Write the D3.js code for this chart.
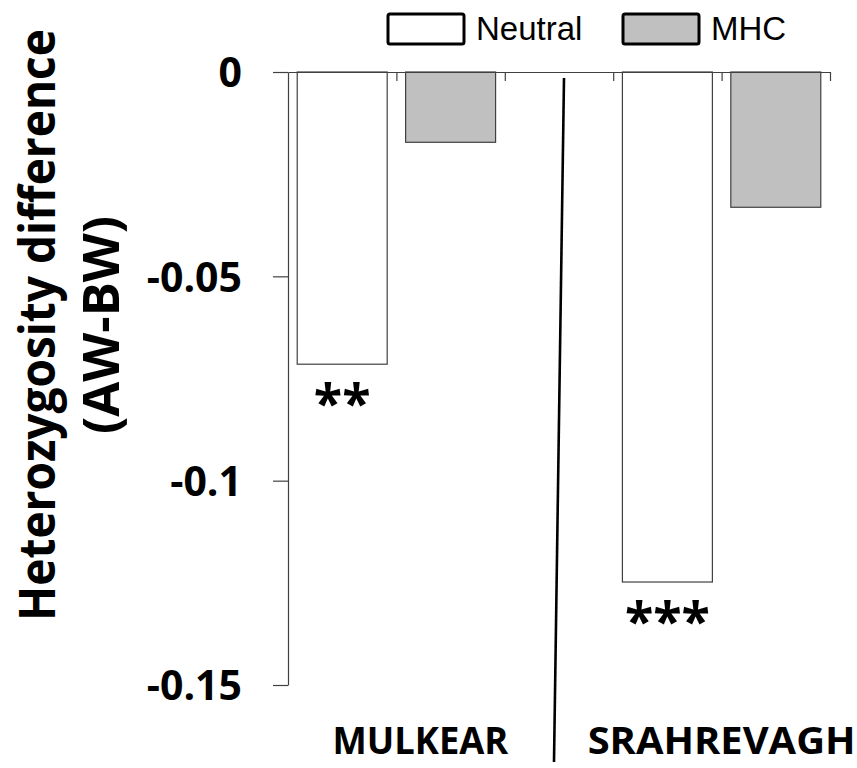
<!DOCTYPE html>
<html>
<head>
<meta charset="utf-8">
<script src="https://cdn.jsdelivr.net/npm/d3@7"></script>
<style>
  html, body { margin: 0; padding: 0; background: #fff; }
  svg { display: block; }
</style>
</head>
<body>
<svg id="chart" width="857" height="768"></svg>
<script>
// ---- data ----
const sites = ["MULKEAR", "SRAHREVAGH"];
const markers = ["Neutral", "MHC"];
const neutralValues = [-0.0715, -0.1248];
const mhcValues = [-0.0172, -0.0331];
const significance = ["**", "***"];
const yTicks = [0, -0.05, -0.1, -0.15];
const yTickLabels = ["0", "-0.05", "-0.1", "-0.15"];
const yTitle = ["Heterozygosity difference", "(AW-BW)"];

// ---- layout ----
const svg = d3.select("#chart");
const boldFont = "'Open Sans', 'DejaVu Sans', sans-serif";
const fills = { Neutral: "#ffffff", MHC: "#c0c0c0" };

// slots: each site has Neutral & MHC, with an empty slot between sites
const slots = [];
sites.forEach((s, i) => {
  if (i > 0) slots.push("gap");
  markers.forEach(m => slots.push(s + "|" + m));
});

const x = d3.scaleBand().domain(slots).range([288, 830]).paddingInner(0.17).paddingOuter(0.085);
const y = d3.scaleLinear().domain([-0.15, 0]).range([685, 72]);

const rows = [];
sites.forEach((s, i) => {
  rows.push({ site: s, marker: "Neutral", value: neutralValues[i], sig: significance[i] });
  rows.push({ site: s, marker: "MHC", value: mhcValues[i], sig: "" });
});

// ---- bars ----
svg.append("g").selectAll("rect").data(rows).join("rect")
  .attr("x", d => x(d.site + "|" + d.marker))
  .attr("y", y(0))
  .attr("width", x.bandwidth())
  .attr("height", d => y(d.value) - y(0))
  .attr("fill", d => fills[d.marker])
  .attr("stroke", "#404040")
  .attr("stroke-width", 1.2);

// ---- significance stars ----
svg.append("g").selectAll("text").data(rows.filter(d => d.sig)).join("text")
  .attr("x", d => x(d.site + "|" + d.marker) + x.bandwidth() / 2)
  .attr("y", d => y(d.value) + 58)
  .attr("text-anchor", "middle")
  .attr("font-family", boldFont)
  .attr("font-weight", 700)
  .attr("font-size", 52)
  .attr("fill", "#000")
  .text(d => d.sig);

// ---- y axis ----
const yAxis = d3.axisLeft(y)
  .tickValues(yTicks)
  .tickFormat((d, i) => yTickLabels[i])
  .tickSize(15)
  .tickSizeOuter(0)
  .tickPadding(31);
const gy = svg.append("g").attr("transform", "translate(288,0)").call(yAxis);
gy.select(".domain").attr("stroke", "#404040").attr("stroke-width", 1.2);
gy.selectAll(".tick line").attr("stroke", "#404040").attr("stroke-width", 1.2);
gy.selectAll(".tick text")
  .attr("font-family", boldFont)
  .attr("font-weight", 700)
  .attr("font-size", 41)
  .attr("fill", "#000")
  .attr("dy", "0.36em");

// ---- top (category) axis at zero ----
const step = x.step();
const bounds = d3.range(slots.length + 1).map(i => 288 + i * step);
const xl = d3.scaleLinear().domain([288, 830]).range([288, 830]);
const gx = svg.append("g").attr("transform", `translate(0,${y(0)})`)
  .call(d3.axisBottom(xl).tickValues(bounds.slice(1)).tickSize(9).tickSizeOuter(0).tickFormat(""));
gx.select(".domain").attr("stroke", "#404040").attr("stroke-width", 1.2);
gx.selectAll(".tick line").attr("stroke", "#404040").attr("stroke-width", 1.2);

// ---- divider between sites ----
const gapC = x("gap") + x.bandwidth() / 2;
svg.append("line")
  .attr("x1", gapC + 5).attr("y1", 78)
  .attr("x2", gapC - 5).attr("y2", 762)
  .attr("stroke", "#000").attr("stroke-width", 2.6);

// helper: horizontal scale factor (in the text's own frame) to reach a target length
function fitText(sel, target) {
  const natural = sel.node().getComputedTextLength();
  return target / natural;
}

// ---- site labels ----
const siteOffsets = [24, 0];
const siteWidths = [176, 268];
sites.forEach((s, i) => {
  const cx = (x(s + "|Neutral") + x(s + "|MHC") + x.bandwidth()) / 2 + siteOffsets[i];
  const t = svg.append("text")
    .attr("text-anchor", "middle")
    .attr("font-family", boldFont)
    .attr("font-weight", 700)
    .attr("font-size", 38)
    .attr("fill", "#000")
    .text(s);
  const k = fitText(t, siteWidths[i]);
  t.attr("transform", `translate(${cx},754) scale(${k},1)`);
});

// ---- y title ----
const titleCenter = 325;
const titleBaselines = [55, 119];
const titleLengths = [592, 218];
yTitle.forEach((txt, i) => {
  const t = svg.append("text")
    .attr("text-anchor", "middle")
    .attr("font-family", boldFont)
    .attr("font-weight", 700)
    .attr("font-size", 50)
    .attr("fill", "#000")
    .text(txt);
  const k = fitText(t, titleLengths[i]);
  t.attr("transform", `translate(${titleBaselines[i]},${titleCenter}) rotate(-90) scale(${k},1)`);
});

// ---- legend ----
const legendX = [388, 623];
const lg = svg.append("g");
markers.forEach((m, i) => {
  lg.append("rect")
    .attr("x", legendX[i]).attr("y", 14)
    .attr("width", 76).attr("height", 30)
    .attr("rx", 2)
    .attr("fill", fills[m])
    .attr("stroke", "#000")
    .attr("stroke-width", 3);
  lg.append("text")
    .attr("x", legendX[i] + 88).attr("y", 40)
    .attr("font-family", "'Liberation Sans', Arial, sans-serif")
    .attr("font-size", 33)
    .attr("fill", "#000")
    .text(m);
});
</script>
</body>
</html>
